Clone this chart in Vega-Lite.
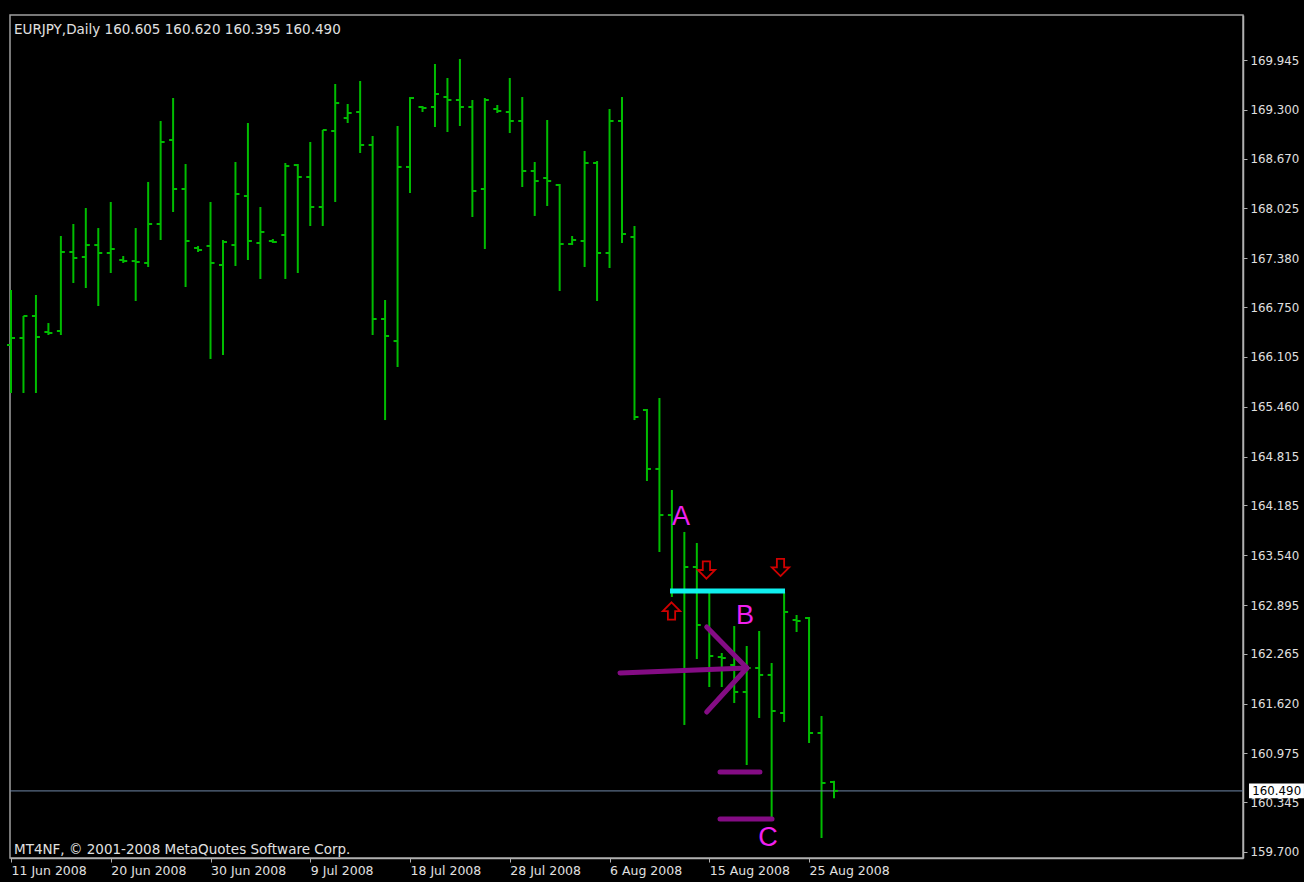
{
  "$schema": "https://vega.github.io/schema/vega-lite/v6.json",
  "width": 1233,
  "height": 843,
  "autosize": {"type": "none"},
  "padding": {"left": 10, "top": 15, "right": 61, "bottom": 24},
  "background": "#000000",
  "config": {
    "view": {"stroke": "#a0a0a0", "strokeWidth": 1.5, "fill": "#000000"},
    "font": "DejaVu Sans"
  },
  "datasets": {
    "bars": [
      {"i": 0, "date": "2008-06-11", "o": 166.259, "h": 166.970, "l": 165.638, "c": 166.349},
      {"i": 1, "date": "2008-06-12", "o": 166.349, "h": 166.634, "l": 165.638, "c": 166.634},
      {"i": 2, "date": "2008-06-13", "o": 166.634, "h": 166.906, "l": 165.638, "c": 166.362},
      {"i": 3, "date": "2008-06-15", "o": 166.427, "h": 166.543, "l": 166.388, "c": 166.414},
      {"i": 4, "date": "2008-06-16", "o": 166.440, "h": 167.669, "l": 166.388, "c": 167.462},
      {"i": 5, "date": "2008-06-17", "o": 167.462, "h": 167.824, "l": 167.061, "c": 167.384},
      {"i": 6, "date": "2008-06-18", "o": 167.397, "h": 168.031, "l": 166.996, "c": 167.552},
      {"i": 7, "date": "2008-06-19", "o": 167.552, "h": 167.772, "l": 166.763, "c": 167.449},
      {"i": 8, "date": "2008-06-20", "o": 167.449, "h": 168.109, "l": 167.190, "c": 167.501},
      {"i": 9, "date": "2008-06-22", "o": 167.358, "h": 167.410, "l": 167.320, "c": 167.345},
      {"i": 10, "date": "2008-06-23", "o": 167.345, "h": 167.772, "l": 166.828, "c": 167.333},
      {"i": 11, "date": "2008-06-24", "o": 167.320, "h": 168.368, "l": 167.268, "c": 167.824},
      {"i": 12, "date": "2008-06-25", "o": 167.824, "h": 169.157, "l": 167.617, "c": 168.885},
      {"i": 13, "date": "2008-06-26", "o": 168.911, "h": 169.454, "l": 167.979, "c": 168.277},
      {"i": 14, "date": "2008-06-27", "o": 168.277, "h": 168.600, "l": 167.009, "c": 167.604},
      {"i": 15, "date": "2008-06-29", "o": 167.514, "h": 167.540, "l": 167.462, "c": 167.488},
      {"i": 16, "date": "2008-06-30", "o": 167.540, "h": 168.109, "l": 166.078, "c": 167.320},
      {"i": 17, "date": "2008-07-01", "o": 167.294, "h": 167.617, "l": 166.129, "c": 167.591},
      {"i": 18, "date": "2008-07-02", "o": 167.552, "h": 168.626, "l": 167.281, "c": 168.212},
      {"i": 19, "date": "2008-07-03", "o": 168.186, "h": 169.131, "l": 167.358, "c": 167.604},
      {"i": 20, "date": "2008-07-04", "o": 167.578, "h": 168.044, "l": 167.113, "c": 167.721},
      {"i": 21, "date": "2008-07-06", "o": 167.604, "h": 167.630, "l": 167.578, "c": 167.591},
      {"i": 22, "date": "2008-07-07", "o": 167.682, "h": 168.613, "l": 167.113, "c": 168.574},
      {"i": 23, "date": "2008-07-08", "o": 168.587, "h": 168.600, "l": 167.190, "c": 168.432},
      {"i": 24, "date": "2008-07-09", "o": 168.432, "h": 168.885, "l": 167.798, "c": 168.044},
      {"i": 25, "date": "2008-07-10", "o": 168.044, "h": 169.040, "l": 167.798, "c": 169.040},
      {"i": 26, "date": "2008-07-11", "o": 169.027, "h": 169.635, "l": 168.109, "c": 169.389},
      {"i": 27, "date": "2008-07-13", "o": 169.195, "h": 169.377, "l": 169.131, "c": 169.260},
      {"i": 28, "date": "2008-07-14", "o": 169.273, "h": 169.674, "l": 168.743, "c": 168.846},
      {"i": 29, "date": "2008-07-15", "o": 168.846, "h": 168.963, "l": 166.388, "c": 166.595},
      {"i": 30, "date": "2008-07-16", "o": 166.595, "h": 166.841, "l": 165.288, "c": 166.375},
      {"i": 31, "date": "2008-07-17", "o": 166.310, "h": 169.092, "l": 165.974, "c": 168.562},
      {"i": 32, "date": "2008-07-18", "o": 168.562, "h": 169.467, "l": 168.225, "c": 169.454},
      {"i": 33, "date": "2008-07-20", "o": 169.338, "h": 169.351, "l": 169.273, "c": 169.325},
      {"i": 34, "date": "2008-07-21", "o": 169.338, "h": 169.894, "l": 169.079, "c": 169.506},
      {"i": 35, "date": "2008-07-22", "o": 169.467, "h": 169.713, "l": 169.014, "c": 169.428},
      {"i": 36, "date": "2008-07-23", "o": 169.428, "h": 169.959, "l": 169.092, "c": 169.338},
      {"i": 37, "date": "2008-07-24", "o": 169.338, "h": 169.428, "l": 167.915, "c": 168.251},
      {"i": 38, "date": "2008-07-25", "o": 168.277, "h": 169.454, "l": 167.501, "c": 169.428},
      {"i": 39, "date": "2008-07-27", "o": 169.312, "h": 169.364, "l": 169.260, "c": 169.286},
      {"i": 40, "date": "2008-07-28", "o": 169.273, "h": 169.713, "l": 169.001, "c": 169.157},
      {"i": 41, "date": "2008-07-29", "o": 169.157, "h": 169.467, "l": 168.303, "c": 168.510},
      {"i": 42, "date": "2008-07-30", "o": 168.510, "h": 168.626, "l": 167.928, "c": 168.380},
      {"i": 43, "date": "2008-07-31", "o": 168.419, "h": 169.170, "l": 168.057, "c": 168.380},
      {"i": 44, "date": "2008-08-01", "o": 168.329, "h": 168.342, "l": 166.957, "c": 167.565},
      {"i": 45, "date": "2008-08-03", "o": 167.565, "h": 167.669, "l": 167.552, "c": 167.617},
      {"i": 46, "date": "2008-08-04", "o": 167.604, "h": 168.769, "l": 167.268, "c": 168.613},
      {"i": 47, "date": "2008-08-05", "o": 168.613, "h": 168.639, "l": 166.828, "c": 167.449},
      {"i": 48, "date": "2008-08-06", "o": 167.449, "h": 169.312, "l": 167.255, "c": 169.157},
      {"i": 49, "date": "2008-08-07", "o": 169.157, "h": 169.467, "l": 167.578, "c": 167.695},
      {"i": 50, "date": "2008-08-08", "o": 167.656, "h": 167.798, "l": 165.288, "c": 165.327},
      {"i": 51, "date": "2008-08-10", "o": 165.418, "h": 165.431, "l": 164.499, "c": 164.655},
      {"i": 52, "date": "2008-08-11", "o": 164.655, "h": 165.573, "l": 163.581, "c": 164.059},
      {"i": 53, "date": "2008-08-12", "o": 164.059, "h": 164.383, "l": 162.999, "c": 163.063},
      {"i": 54, "date": "2008-08-13", "o": 163.089, "h": 163.840, "l": 161.343, "c": 163.387},
      {"i": 55, "date": "2008-08-14", "o": 163.387, "h": 163.697, "l": 162.196, "c": 162.636},
      {"i": 56, "date": "2008-08-15", "o": 162.611, "h": 163.050, "l": 161.834, "c": 162.235},
      {"i": 57, "date": "2008-08-17", "o": 162.222, "h": 162.274, "l": 161.834, "c": 162.209},
      {"i": 58, "date": "2008-08-18", "o": 162.119, "h": 162.623, "l": 161.627, "c": 161.770},
      {"i": 59, "date": "2008-08-19", "o": 161.770, "h": 162.365, "l": 160.825, "c": 162.080},
      {"i": 60, "date": "2008-08-20", "o": 162.080, "h": 162.559, "l": 161.433, "c": 161.990},
      {"i": 61, "date": "2008-08-21", "o": 161.990, "h": 162.145, "l": 160.152, "c": 161.524},
      {"i": 62, "date": "2008-08-22", "o": 161.498, "h": 163.063, "l": 161.381, "c": 162.805},
      {"i": 63, "date": "2008-08-24", "o": 162.701, "h": 162.766, "l": 162.546, "c": 162.688},
      {"i": 64, "date": "2008-08-25", "o": 162.727, "h": 162.740, "l": 161.110, "c": 161.239},
      {"i": 65, "date": "2008-08-26", "o": 161.239, "h": 161.459, "l": 159.881, "c": 160.592},
      {"i": 66, "date": "2008-08-27", "o": 160.605, "h": 160.620, "l": 160.395, "c": 160.490}
    ],
    "purple": [
      {"x1": 48.84, "y1": 162.016, "x2": 59.02, "y2": 162.080},
      {"x1": 55.79, "y1": 162.611, "x2": 59.02, "y2": 162.080},
      {"x1": 55.79, "y1": 161.511, "x2": 59.02, "y2": 162.080},
      {"x1": 56.86, "y1": 160.735, "x2": 60.06, "y2": 160.735},
      {"x1": 56.86, "y1": 160.127, "x2": 61.03, "y2": 160.127}
    ],
    "labels": [
      {"x": 53.73, "y": 164.034, "t": "A"},
      {"x": 58.86, "y": 162.753, "t": "B"},
      {"x": 60.71, "y": 159.881, "t": "C"}
    ]
  },
  "encoding": {
    "x": {
      "type": "quantitative",
      "scale": {"domain": [-0.08, 98.8], "nice": false, "zero": false}
    },
    "y": {
      "type": "quantitative",
      "scale": {"domain": [159.622, 170.528], "nice": false, "zero": false}
    }
  },
  "layer": [
    {
      "data": {"name": "bars"},
      "mark": {"type": "rule", "color": "#00bc00", "strokeWidth": 2},
      "encoding": {
        "x": {
          "field": "i",
          "type": "quantitative",
          "axis": {
            "orient": "bottom",
            "title": null,
            "values": [0, 8, 16, 24, 32, 40, 48, 56, 64],
            "labelExpr": "['11 Jun 2008','20 Jun 2008','30 Jun 2008','9 Jul 2008','18 Jul 2008','28 Jul 2008','6 Aug 2008','15 Aug 2008','25 Aug 2008'][round(datum.value / 8)]",
            "labelAlign": "left",
            "labelColor": "#e0e0e0",
            "labelFontSize": 12.5,
            "labelPadding": 2,
            "labelFlush": false,
            "labelOverlap": false,
            "tickColor": "#b0b0b0",
            "tickSize": 4,
            "domainColor": "#b0b0b0",
            "domainWidth": 1.5,
            "grid": false
          }
        },
        "y": {
          "field": "l",
          "type": "quantitative",
          "axis": {
            "orient": "right",
            "title": null,
            "values": [169.945, 169.3, 168.67, 168.025, 167.38, 166.75, 166.105, 165.46, 164.815, 164.185, 163.54, 162.895, 162.265, 161.62, 160.975, 160.345, 159.7],
            "format": ".3f",
            "labelColor": "#e0e0e0",
            "labelFontSize": 11.8,
            "labelPadding": 3,
            "labelFlush": false,
            "labelOverlap": false,
            "tickColor": "#b0b0b0",
            "tickSize": 4,
            "domainColor": "#b0b0b0",
            "domainWidth": 1.5,
            "grid": false
          }
        },
        "y2": {"field": "h"}
      }
    },
    {
      "data": {"values": [{"p": 160.49}]},
      "mark": {"type": "rule", "color": "#7088a8", "strokeWidth": 1},
      "encoding": {"y": {"field": "p", "type": "quantitative"}}
    },
    {
      "data": {"name": "bars"},
      "mark": {"type": "tick", "orient": "horizontal", "color": "#00bc00", "size": 4, "thickness": 2, "xOffset": -2, "opacity": 1},
      "encoding": {
        "x": {"field": "i", "type": "quantitative"},
        "y": {"field": "o", "type": "quantitative"}
      }
    },
    {
      "data": {"name": "bars"},
      "mark": {"type": "tick", "orient": "horizontal", "color": "#00bc00", "size": 4, "thickness": 2, "xOffset": 2, "opacity": 1},
      "encoding": {
        "x": {"field": "i", "type": "quantitative"},
        "y": {"field": "c", "type": "quantitative"}
      }
    },
    {
      "data": {"values": [{"x1": 52.85, "x2": 62.07, "p": 163.076}]},
      "mark": {"type": "rule", "color": "#10f0f0", "strokeWidth": 5},
      "encoding": {
        "x": {"field": "x1", "type": "quantitative"},
        "x2": {"field": "x2"},
        "y": {"field": "p", "type": "quantitative"}
      }
    },
    {
      "data": {"name": "purple"},
      "mark": {"type": "rule", "color": "#840c84", "strokeWidth": 5, "strokeCap": "round"},
      "encoding": {
        "x": {"field": "x1", "type": "quantitative"},
        "y": {"field": "y1", "type": "quantitative"},
        "x2": {"field": "x2"},
        "y2": {"field": "y2"}
      }
    },
    {
      "data": {"values": [{"x": 52.97, "p": 162.817}]},
      "mark": {"type": "point", "shape": "M0,-1 L1,0 L0.42,0 L0.42,1 L-0.42,1 L-0.42,0 L-1,0 Z", "size": 300, "filled": false, "stroke": "#d00000", "strokeWidth": 1.8, "opacity": 1},
      "encoding": {
        "x": {"field": "x", "type": "quantitative"},
        "y": {"field": "p", "type": "quantitative"}
      }
    },
    {
      "data": {"values": [{"x": 55.77, "p": 163.348}, {"x": 61.71, "p": 163.381}]},
      "mark": {"type": "point", "shape": "M0,1 L1,0 L0.42,0 L0.42,-1 L-0.42,-1 L-0.42,0 L-1,0 Z", "size": 300, "filled": false, "stroke": "#d00000", "strokeWidth": 1.8, "opacity": 1},
      "encoding": {
        "x": {"field": "x", "type": "quantitative"},
        "y": {"field": "p", "type": "quantitative"}
      }
    },
    {
      "data": {"name": "labels"},
      "mark": {"type": "text", "font": "Liberation Sans", "fontSize": 27, "color": "#f020f0", "align": "center", "baseline": "middle"},
      "encoding": {
        "x": {"field": "x", "type": "quantitative"},
        "y": {"field": "y", "type": "quantitative"},
        "text": {"field": "t"}
      }
    },
    {
      "data": {"values": [
        {"x": 0.24, "y": 170.334, "t": "EURJPY,Daily  160.605 160.620 160.395 160.490", "s": "title"},
        {"x": 0.24, "y": 159.726, "t": "MT4NF, © 2001-2008 MetaQuotes Software Corp.", "s": "copy"}
      ]},
      "mark": {"type": "text", "fontSize": 13.5, "color": "#e0e0e0", "align": "left", "baseline": "middle"},
      "encoding": {
        "x": {"field": "x", "type": "quantitative"},
        "y": {"field": "y", "type": "quantitative"},
        "text": {"field": "t"}
      }
    },
    {
      "data": {"values": [{"x1": 99.28, "x2": 103.69, "y1": 160.395, "y2": 160.585}]},
      "mark": {"type": "rect", "color": "#ffffff", "clip": false},
      "encoding": {
        "x": {"field": "x1", "type": "quantitative"},
        "x2": {"field": "x2"},
        "y": {"field": "y1", "type": "quantitative"},
        "y2": {"field": "y2"}
      }
    },
    {
      "data": {"values": [{"x": 99.55, "p": 160.49, "t": "160.490"}]},
      "mark": {"type": "text", "fontSize": 11.8, "color": "#000000", "align": "left", "baseline": "middle", "clip": false},
      "encoding": {
        "x": {"field": "x", "type": "quantitative"},
        "y": {"field": "p", "type": "quantitative"},
        "text": {"field": "t"}
      }
    }
  ]
}
